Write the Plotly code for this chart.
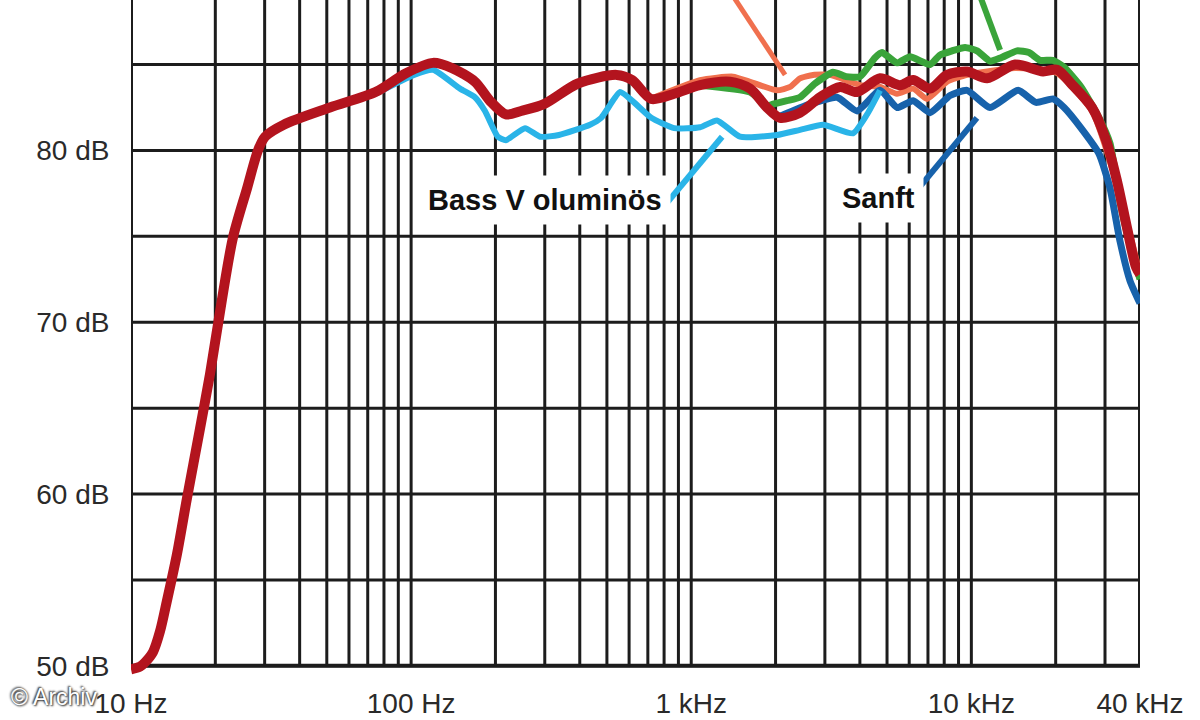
import math
import plotly.graph_objects as go

# ---------------- data ----------------
# Red (main) curve
red_f = [10.0, 10.77, 11.22, 11.98, 12.69, 13.44, 14.59, 15.84, 17.63, 19.15, 20.45, 23.1, 25.96, 28.4, 30.1,
         35.1, 51.3, 74.6, 95.9, 119.7, 140, 169, 191, 218, 247, 298, 394, 542, 615, 720, 869, 1075, 1376,
         1622, 1865, 2075, 2445, 2883, 3398, 3906, 4721, 5565, 6193, 7122, 8194, 9652, 11380, 14320, 18030,
         20230, 22700, 26980, 30270, 33130, 35950, 38730, 40000]
red_db = [49.8, 49.95, 50.2, 50.8, 52.0, 53.8, 56.5, 59.75, 63.8, 67.0, 69.9, 74.9, 77.8, 80.0, 80.8,
          81.5, 82.5, 83.4, 84.5, 85.1, 84.8, 84.0, 82.9, 82.1, 82.3, 82.7, 83.9, 84.4, 84.1, 83.0, 83.3, 83.8, 84.0,
          83.6, 82.5, 81.9, 82.2, 83.1, 83.7, 83.4, 84.2, 83.8, 84.1, 83.6, 84.4, 84.6, 84.2, 85.0, 84.6,
          84.7, 83.9, 82.5, 80.6, 78.2, 75.5, 73.2, 72.8]

# Light blue "Bass Voluminös"
lblue_f = [74.6, 102.4, 119.7, 149.5, 169, 183.5, 204, 218, 255, 289, 337, 435, 477, 557, 615, 720, 869,
           1075, 1236, 1493, 2023, 2445, 2955, 3781, 4243, 4721]
lblue_db = [83.3, 84.4, 84.7, 83.6, 83.1, 82.3, 80.8, 80.6, 81.3, 80.8, 80.9, 81.5, 81.9, 83.4, 82.9, 81.9, 81.3,
            81.35, 81.75, 80.8, 80.9, 81.2, 81.5, 81.0, 82.1, 83.5]

# Dark blue "Sanft"
dblue_f = [2075, 2655, 3315, 3906, 4721, 5428, 6193, 7122, 8395, 9652, 11660, 14680, 17020, 19570, 21430,
           24640, 28570, 31270, 33960, 36870, 40000]
dblue_db = [82.0, 82.7, 83.1, 82.3, 83.5, 82.5, 82.9, 82.2, 83.2, 83.5, 82.5, 83.5, 82.8, 83.0, 82.5,
            81.3, 79.8, 77.8, 74.7, 72.4, 71.1]

# Green
green_f = [1075, 1622, 1865, 1959, 2198, 2445, 2767, 3208, 3570, 4005, 4530, 4798, 5428, 6040, 7122, 7727,
           8530, 9495, 10480, 11660, 12760, 14550, 16060, 17590, 19570, 21430, 24640, 28570, 31270, 33960,
           36870, 40000]
green_db = [83.8, 83.4, 82.6, 82.7, 82.9, 83.1, 83.9, 84.55, 84.3, 84.3, 85.4, 85.7, 85.1, 85.45, 85.0, 85.55,
            85.8, 86.0, 85.8, 85.2, 85.4, 85.8, 85.7, 85.25, 85.25, 84.85, 83.7, 81.9, 80.4, 77.0,
            74.5, 72.5]

# Orange
orange_f = [713, 1075, 1409, 1622, 2023, 2255, 2445, 2722, 3131, 4005, 4721, 5428, 6193, 6950, 8194, 9652,
            14320, 20230, 26980, 33130, 40000]
orange_db = [83.0, 84.1, 84.3, 84.0, 83.5, 83.7, 84.2, 84.4, 84.4, 83.8, 83.7, 83.3, 83.6, 83.0, 84.0, 84.4,
             84.8, 84.5, 82.3, 78.0, 72.8]

# leader lines (start at label / top edge, end at curve)
lead_orange_f = [1409, 2163]
lead_orange_db = [89.0, 84.4]
lead_green_f = [10740, 12660]
lead_green_db = [89.0, 85.85]
lead_dblue_f = [6040, 10470]
lead_dblue_db = [77.2, 81.9]
lead_lblue_f = [805, 1289]
lead_lblue_db = [76.8, 80.8]

# labels
label_bass = "Bass V oluminös"
label_bass_pos = (300.6, 77.1)
label_sanft = "Sanft"
label_sanft_pos = (4645, 77.25)

# axes
grid_freqs = [m * d for d in (10, 100, 1000) for m in range(1, 10)] + [10000, 20000, 30000, 40000]
grid_db = [50, 55, 60, 65, 70, 75, 80, 85]
x_tickvals = [10, 100, 1000, 10000, 40000]
x_ticktext = ["10 Hz", "100 Hz", "1 kHz", "10 kHz", "40 kHz"]
y_ticktext = ["50 dB", "", "60 dB", "", "70 dB", "", "80 dB", ""]

# ---------------- layout constants ----------------
W, H = 1200, 720
ML, MR, MT, MB = 131, 60, 0, 43
Y_RANGE = [49.35, 88.76]
X_RANGE = [1.0, math.log10(40000)]
FONT = "Liberation Sans, Arial, sans-serif"
GRID_COL = "#1c1c1c"

fig = go.Figure()

# grid (vertical + horizontal)
gx, gy = [], []
for f in grid_freqs:
    gx += [f, f, None]
    gy += [50, 90, None]
for d in grid_db:
    gx += [10, 40000, None]
    gy += [d, d, None]
fig.add_trace(go.Scatter(x=gx, y=gy, mode="lines", line=dict(color=GRID_COL, width=3),
                         hoverinfo="skip", showlegend=False))
# borders
fig.add_trace(go.Scatter(x=[10, 10, None, 40000, 40000, None, 10, 40000],
                         y=[50, 90, None, 50, 90, None, 50, 50], mode="lines",
                         line=dict(color=GRID_COL, width=4), hoverinfo="skip", showlegend=False))

# leader lines
for lf, ld, col, w in [(lead_orange_f, lead_orange_db, "#f0704e", 5),
                       (lead_green_f, lead_green_db, "#3aa43a", 6),
                       (lead_dblue_f, lead_dblue_db, "#1762ab", 6),
                       (lead_lblue_f, lead_lblue_db, "#2ab4e8", 6)]:
    fig.add_trace(go.Scatter(x=lf, y=ld, mode="lines", line=dict(color=col, width=w),
                             hoverinfo="skip", showlegend=False))

curves = [
    ("Orange", orange_f, orange_db, "#f0704e", 6, 0.5),
    ("Grün", green_f, green_db, "#3aa43a", 7, 0.5),
    ("Sanft", dblue_f, dblue_db, "#1762ab", 7, 0.5),
    ("Bass Voluminös", lblue_f, lblue_db, "#2ab4e8", 6, 0.5),
    ("Normal", red_f, red_db, "#b3141e", 10, 0.8),
]
for name, xf, yd, col, w, sm in curves:
    fig.add_trace(go.Scatter(x=xf, y=yd, mode="lines", name=name,
                             line=dict(color=col, width=w, shape="spline", smoothing=sm),
                             showlegend=False))

# text labels
for txt, (fx, dy) in [(label_bass, label_bass_pos), (label_sanft, label_sanft_pos)]:
    fig.add_annotation(x=math.log10(fx), y=dy, xref="x", yref="y", text=f"<b>{txt}</b>",
                       showarrow=False, font=dict(family=FONT, size=29, color="#111111"),
                       bgcolor="white", borderpad=8)

# watermark
plot_h = H - MT - MB
plot_w = W - ML - MR
fig.add_annotation(xref="paper", yref="paper", x=(9 - ML) / plot_w, y=(plot_h - 697) / plot_h,
                   xanchor="left", yanchor="middle", text="© Archiv", showarrow=False,
                   font=dict(family=FONT, size=23, color="white",
                             shadow="1px 1px 2px #222, -1px -1px 2px #222"))

fig.update_layout(
    width=W, height=H, margin=dict(l=ML, r=MR, t=MT, b=MB, pad=0, autoexpand=False),
    paper_bgcolor="white", plot_bgcolor="white",
    font=dict(family=FONT, size=28, color="#2a2a2a"),
    hovermode=False,
    xaxis=dict(type="log", range=X_RANGE, showgrid=False, zeroline=False, showline=False,
               automargin=False, fixedrange=True,
               tickmode="array", tickvals=x_tickvals, ticktext=x_ticktext,
               ticks="outside", ticklen=0, tickcolor="white", ticklabelstandoff=1),
    yaxis=dict(range=Y_RANGE, showgrid=False, zeroline=False, showline=False,
               automargin=False, fixedrange=True,
               tickmode="array", tickvals=grid_db, ticktext=y_ticktext,
               ticks="outside", ticklen=0, tickcolor="white", ticklabelstandoff=15),
)

fig.write_html("out.html", config={"displayModeBar": False, "staticPlot": True},
               post_script="document.body.style.margin='0px';document.body.style.overflow='hidden';")
